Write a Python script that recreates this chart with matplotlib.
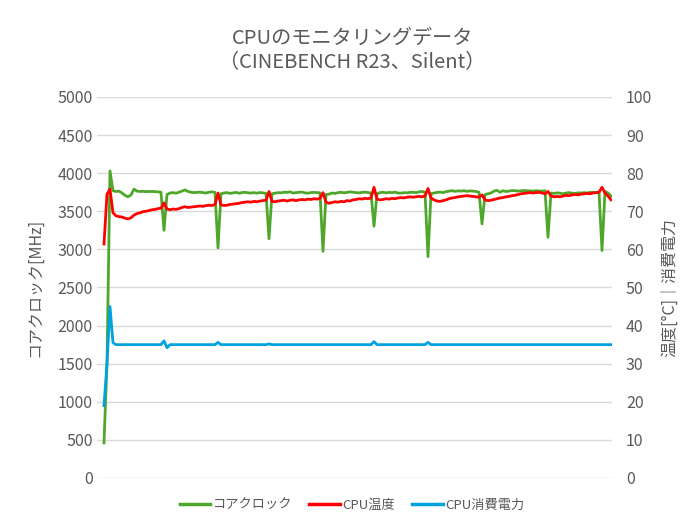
import matplotlib
matplotlib.use("Agg")
import matplotlib.pyplot as plt
import numpy as np

plt.rcParams['font.family'] = ['Noto Sans CJK JP', 'DejaVu Sans']

# sample index (approx. 3 px per sample in the original chart)
clock_mhz = [
    460, 1500, 4030, 3770, 3760, 3765, 3740, 3710, 3690, 3715,
    3790, 3765, 3760, 3762, 3758, 3760, 3760, 3758, 3755, 3750,
    3250, 3720, 3740, 3745, 3738, 3750, 3765, 3780, 3760, 3750,
    3745, 3748, 3752, 3745, 3740, 3750, 3755, 3748, 3020, 3730,
    3740, 3745, 3735, 3742, 3748, 3738, 3745, 3750, 3742, 3740,
    3745, 3738, 3746, 3742, 3735, 3140, 3730, 3738, 3745, 3742,
    3750, 3748, 3755, 3740, 3745, 3750, 3752, 3742, 3738, 3746,
    3748, 3745, 3742, 2975, 3720, 3725, 3740, 3735, 3745, 3750,
    3742, 3748, 3755, 3750, 3745, 3742, 3748, 3752, 3746, 3740,
    3305, 3730, 3745, 3750, 3742, 3748, 3745, 3752, 3740, 3738,
    3745, 3742, 3748, 3750, 3745, 3755, 3760, 3750, 2905, 3730,
    3740, 3748, 3752, 3745, 3758, 3765, 3770, 3762, 3768, 3765,
    3770, 3762, 3768, 3765, 3760, 3750, 3335, 3720, 3730, 3740,
    3765, 3775, 3750, 3770, 3760, 3765, 3772, 3770, 3765, 3768,
    3772, 3770, 3768, 3765, 3770, 3768, 3765, 3770, 3160, 3740,
    3735, 3742, 3738, 3730, 3740, 3745, 3738, 3735, 3742, 3740,
    3745, 3740, 3748, 3750, 3745, 3752, 2985, 3760, 3740, 3700,
]

temp_c = [
    61.4, 74.5, 75.8, 69.6, 68.8, 68.6, 68.5, 68.2, 68.0, 68.3,
    69.0, 69.4, 69.6, 69.9, 70.0, 70.2, 70.4, 70.5, 70.7, 70.8,
    72.2, 70.6, 70.4, 70.6, 70.5, 70.7, 71.0, 71.2, 71.0, 71.1,
    71.2, 71.3, 71.4, 71.3, 71.5, 71.6, 71.5, 71.8, 74.8, 71.7,
    71.5, 71.6, 71.8, 71.9, 72.0, 72.1, 72.3, 72.4, 72.5, 72.4,
    72.6, 72.5, 72.7, 72.8, 72.9, 75.2, 72.6, 72.5, 72.7, 72.8,
    72.9, 72.7, 72.9, 73.0, 72.8, 73.0, 73.1, 73.0, 73.2, 73.1,
    73.3, 73.2, 73.4, 74.9, 72.4, 72.1, 72.3, 72.5, 72.4, 72.6,
    72.5, 72.8, 72.7, 73.0, 73.1, 73.3, 73.2, 73.4, 73.3, 73.5,
    76.3, 73.2, 73.0, 73.1, 73.3, 73.2, 73.4, 73.3, 73.5, 73.6,
    73.5, 73.7, 73.8, 73.7, 73.8, 73.9, 73.8, 74.0, 76.0, 73.5,
    73.0, 72.7, 72.6, 72.8, 73.0, 73.3, 73.5, 73.6, 73.8, 73.9,
    74.0, 74.1, 74.0, 73.9, 73.8, 73.7, 74.3, 73.0, 72.8, 72.9,
    73.1, 73.3, 73.5, 73.6, 73.8, 73.9, 74.1, 74.2, 74.4, 74.6,
    74.7, 74.8, 74.9, 74.8, 74.9, 75.0, 74.8, 74.6, 75.2, 74.0,
    73.8, 73.9, 73.8, 74.0, 74.2, 74.1, 74.3, 74.4, 74.3, 74.5,
    74.6, 74.7, 74.6, 74.8, 74.9, 75.0, 76.3, 74.8, 74.0, 73.0,
]

power_w = [
    19.0, 30.0, 45.0, 35.5, 35.0, 35.0, 35.0, 35.0, 35.0, 35.0,
    35.0, 35.0, 35.0, 35.0, 35.0, 35.0, 35.0, 35.0, 35.0, 35.0,
    36.0, 34.2, 35.0, 35.0, 35.0, 35.0, 35.0, 35.0, 35.0, 35.0,
    35.0, 35.0, 35.0, 35.0, 35.0, 35.0, 35.0, 35.0, 35.6, 35.0,
    35.0, 35.0, 35.0, 35.0, 35.0, 35.0, 35.0, 35.0, 35.0, 35.0,
    35.0, 35.0, 35.0, 35.0, 35.0, 35.2, 35.0, 35.0, 35.0, 35.0,
    35.0, 35.0, 35.0, 35.0, 35.0, 35.0, 35.0, 35.0, 35.0, 35.0,
    35.0, 35.0, 35.0, 35.0, 35.0, 35.0, 35.0, 35.0, 35.0, 35.0,
    35.0, 35.0, 35.0, 35.0, 35.0, 35.0, 35.0, 35.0, 35.0, 35.0,
    35.8, 35.0, 35.0, 35.0, 35.0, 35.0, 35.0, 35.0, 35.0, 35.0,
    35.0, 35.0, 35.0, 35.0, 35.0, 35.0, 35.0, 35.0, 35.6, 35.0,
    35.0, 35.0, 35.0, 35.0, 35.0, 35.0, 35.0, 35.0, 35.0, 35.0,
    35.0, 35.0, 35.0, 35.0, 35.0, 35.0, 35.0, 35.0, 35.0, 35.0,
    35.0, 35.0, 35.0, 35.0, 35.0, 35.0, 35.0, 35.0, 35.0, 35.0,
    35.0, 35.0, 35.0, 35.0, 35.0, 35.0, 35.0, 35.0, 35.0, 35.0,
    35.0, 35.0, 35.0, 35.0, 35.0, 35.0, 35.0, 35.0, 35.0, 35.0,
    35.0, 35.0, 35.0, 35.0, 35.0, 35.0, 35.0, 35.0, 35.0, 35.0,
]

left_ticks = [0, 500, 1000, 1500, 2000, 2500, 3000, 3500, 4000, 4500, 5000]
right_ticks = [0, 10, 20, 30, 40, 50, 60, 70, 80, 90, 100]

GRAY = '#595959'
GREEN = '#4ea72a'
RED = '#ff0000'
BLUE = '#00a2e0'

x = np.arange(len(clock_mhz))

fig = plt.figure(figsize=(7, 5.25), dpi=100)
ax = fig.add_axes([97 / 700, 1 - 478 / 525, 515 / 700, 381 / 525])
ax2 = ax.twinx()

l1, = ax.plot(x, clock_mhz, color=GREEN, lw=2.0, label='コアクロック')
l2, = ax2.plot(x, temp_c, color=RED, lw=2.0, label='CPU温度')
l3, = ax2.plot(x, power_w, color=BLUE, lw=2.0, label='CPU消費電力')

ax.set_xlim(-2.33, len(x) - 1 + 0.33)
ax.set_ylim(0, 5000)
ax2.set_ylim(0, 100)
ax.set_yticks(left_ticks)
ax2.set_yticks(right_ticks)
ax.set_xticks([])
ax.grid(axis='y', color='#d9d9d9', lw=1.0)
ax.set_axisbelow(True)

for a in (ax, ax2):
    for s in a.spines.values():
        s.set_visible(False)
    a.tick_params(axis='y', length=0, labelsize=11.5, labelcolor=GRAY)
ax.tick_params(axis='y', pad=3)
ax2.tick_params(axis='y', pad=10)

ax.set_ylabel('コアクロック[MHz]', fontsize=11.5, color=GRAY, labelpad=10.5)
ax2.set_ylabel('温度[°C]｜消費電力', fontsize=11.5, color=GRAY, rotation=90, labelpad=6)

fig.text(0.503, 1 - 38 / 525, 'CPUのモニタリングデータ', ha='center', va='center',
         fontsize=14.5, color=GRAY)
fig.text(0.503, 1 - 63 / 525, '（CINEBENCH R23、Silent）', ha='center', va='center',
         fontsize=14.5, color=GRAY)

leg = fig.legend(handles=[l1, l2, l3], loc='center', bbox_to_anchor=(0.503, 1 - 505 / 525),
                 ncol=3, frameon=False, fontsize=9.5, handlelength=2.3, handletextpad=0.2,
                 columnspacing=1.3)
for t in leg.get_texts():
    t.set_color(GRAY)
for h in leg.get_lines():
    h.set_linewidth(2.5)

fig.savefig('out.png', dpi=100)
